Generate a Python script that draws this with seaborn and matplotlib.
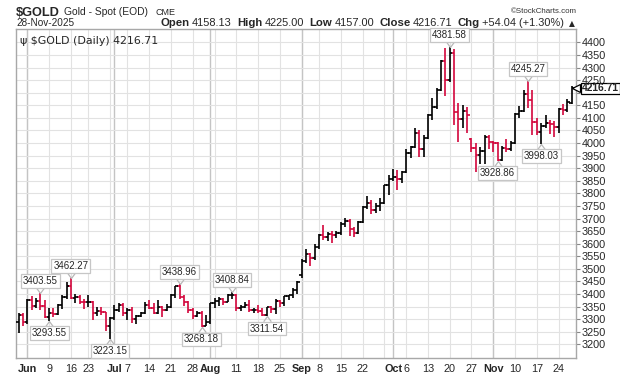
import numpy as np
import pandas as pd
import matplotlib
matplotlib.use("Agg")
import matplotlib.pyplot as plt
import seaborn as sns

# daily OHLC (May 29 - Nov 28, 2025; US holidays skipped)
holidays = ["2025-06-19", "2025-07-04", "2025-09-01", "2025-11-27"]
opens = [3290, 3318, 3290, 3376, 3353, 3373, 3352, 3310, 3326, 3322,
         3355, 3387, 3433, 3385, 3388, 3369, 3368, 3370, 3323, 3332,
         3328, 3274, 3303, 3338, 3357, 3326, 3336, 3301, 3313, 3324,
         3355, 3343, 3324, 3347, 3338, 3350, 3397, 3431, 3387, 3368,
         3337, 3314, 3326, 3275, 3289, 3363, 3373, 3381, 3369, 3397,
         3398, 3343, 3348, 3356, 3335, 3336, 3332, 3315, 3347, 3339,
         3372, 3365, 3393, 3397, 3416, 3476, 3533, 3560, 3545, 3587,
         3636, 3627, 3640, 3634, 3643, 3679, 3689, 3659, 3644, 3685,
         3746, 3763, 3735, 3749, 3760, 3833, 3858, 3866, 3856, 3886,
         3960, 3985, 4041, 3975, 4018, 4110, 4143, 4210, 4326, 4251,
         4356, 4125, 4095, 4126, 4015, 3982, 3952, 3970, 4025, 4003,
         4001, 3932, 3980, 3977, 4000, 4115, 4128, 4195, 4171, 4084,
         4045, 4067, 4078, 4076, 4065, 4137, 4131, 4158.13]
highs = [3325, 3325, 3380, 3392, 3385, 3403.55, 3375, 3345, 3345, 3360,
         3398, 3446, 3462.27, 3400, 3395, 3380, 3398, 3372, 3348, 3350,
         3329, 3310, 3358, 3365, 3366, 3345, 3348, 3317, 3330, 3369,
         3375, 3366, 3377, 3352, 3361, 3402, 3433, 3438.96, 3395, 3373,
         3345, 3334, 3334, 3315, 3363, 3385, 3390, 3385, 3400, 3408.84,
         3400, 3358, 3370, 3375, 3345, 3358, 3345, 3350, 3351, 3379,
         3376, 3393, 3398, 3423, 3453, 3540, 3578, 3565, 3600, 3640,
         3674, 3645, 3650, 3650, 3685, 3703, 3697, 3665, 3690, 3750,
         3791, 3775, 3762, 3780, 3835, 3872, 3895, 3894, 3890, 3977,
         3990, 4059, 4050, 4030, 4116, 4179, 4218, 4330, 4379, 4381.58,
         4374, 4161, 4150, 4145, 4020, 4000, 3985, 4030, 4030, 4010,
         4003, 3990, 4015, 4010, 4120, 4148, 4210, 4245.27, 4211, 4099,
         4080, 4110, 4090, 4089, 4140, 4155, 4175, 4225]
lows = [3245, 3272, 3280, 3335, 3345, 3338, 3306, 3293.55, 3310, 3316,
        3340, 3380, 3382, 3365, 3362, 3340, 3347, 3295, 3313, 3316,
        3255, 3223.15, 3298, 3330, 3311, 3296, 3287, 3282, 3310, 3322,
        3341, 3320, 3319, 3309, 3332, 3345, 3383, 3381, 3351, 3325,
        3301, 3309, 3268.18, 3272, 3280, 3346, 3354, 3358, 3367, 3380,
        3331, 3331, 3344, 3330, 3323, 3323, 3314, 3311.54, 3324, 3321,
        3350, 3352, 3375, 3385, 3402, 3463, 3525, 3510, 3535, 3580,
        3613, 3612, 3602, 3622, 3636, 3668, 3630, 3627, 3640, 3682,
        3736, 3718, 3722, 3730, 3758, 3793, 3850, 3814, 3840, 3882,
        3940, 3980, 3945, 3945, 4015, 4090, 4137, 4205, 4185, 4244,
        4072, 4004, 4060, 4039, 3966, 3886, 3915, 3915, 3975, 3965,
        3928.86, 3930, 3965, 3970, 3995, 4100, 4125, 4140, 4032, 4033,
        3998.03, 4060, 4036, 4022, 4040, 4110, 4125, 4157]
closes = [3318, 3289, 3375, 3353, 3373, 3352, 3310, 3326, 3322, 3355,
          3387, 3433, 3385, 3388, 3369, 3368, 3370, 3323, 3332, 3328,
          3274, 3303, 3338, 3357, 3326, 3336, 3301, 3313, 3324, 3355,
          3343, 3324, 3347, 3338, 3350, 3397, 3431, 3387, 3368, 3337,
          3314, 3326, 3275, 3289, 3363, 3373, 3381, 3369, 3397, 3398,
          3343, 3348, 3356, 3335, 3336, 3332, 3315, 3347, 3339, 3372,
          3365, 3393, 3397, 3416, 3448, 3533, 3560, 3545, 3587, 3636,
          3627, 3640, 3634, 3643, 3679, 3689, 3659, 3644, 3685, 3746,
          3763, 3735, 3749, 3760, 3833, 3858, 3866, 3856, 3886, 3960,
          3985, 4041, 3975, 4018, 4110, 4143, 4210, 4326, 4251, 4356,
          4125, 4095, 4126, 4112, 3982, 3952, 3970, 4025, 4003, 4001,
          3932, 3980, 3977, 4000, 4115, 4128, 4195, 4171, 4084, 4045,
          4067, 4078, 4076, 4065, 4137, 4131, 4162.67, 4216.71]

tick_dates = ["2025-06-02", "2025-06-09", "2025-06-16", "2025-06-23", "2025-07-01",
              "2025-07-07", "2025-07-14", "2025-07-21", "2025-07-28", "2025-08-01",
              "2025-08-11", "2025-08-18", "2025-08-25", "2025-09-02", "2025-09-08",
              "2025-09-15", "2025-09-22", "2025-10-01", "2025-10-06", "2025-10-13",
              "2025-10-20", "2025-10-27", "2025-11-03", "2025-11-10", "2025-11-17",
              "2025-11-24"]
tick_labels = ["Jun", "9", "16", "23", "Jul", "7", "14", "21", "28", "Aug",
               "11", "18", "25", "Sep", "8", "15", "22", "Oct", "6", "13",
               "20", "27", "Nov", "10", "17", "24"]

# labelled swing points
swing_dates = ["2025-06-05", "2025-06-09", "2025-06-16", "2025-06-30", "2025-07-23",
               "2025-07-30", "2025-08-08", "2025-08-20", "2025-10-20", "2025-11-04",
               "2025-11-13", "2025-11-18"]
swing_prices = [3403.55, 3293.55, 3462.27, 3223.15, 3438.96, 3268.18, 3408.84,
                3311.54, 4381.58, 3928.86, 4245.27, 3998.03]
swing_above = [True, False, True, False, True, False, True, False, True, False, True, False]

header_labels = ["Open", "High", "Low", "Close", "Chg"]
header_vals = ["4158.13", "4225.00", "4157.00", "4216.71", "+54.04 (+1.30%)"]

RED = "#d3063c"

dates = pd.bdate_range("2025-05-29", "2025-11-28", freq="C", holidays=holidays)
df = pd.DataFrame({"open": opens, "high": highs, "low": lows, "close": closes}, index=dates)
df["x"] = np.arange(len(df))
df["up"] = df["close"] >= df["close"].shift(1).fillna(0)
cols = np.where(df["up"], "black", RED)

sns.set_style("white")
plt.rcParams["font.family"] = ["Liberation Sans", "DejaVu Sans"]

W, H = 620, 376
fig = plt.figure(figsize=(6.2, 3.76), dpi=100)
ax = fig.add_axes([16 / W, 18 / H, 560 / W, 329 / H])

# grid
ax.set_yticks(np.arange(3200, 4401, 50))
ax.grid(axis="y", color="#e2e2e2", lw=0.8, zorder=0)
wk = df.index.isocalendar().week.values
week_start = df["x"][np.r_[False, wk[1:] != wk[:-1]]]
month_start = df["x"][np.r_[False, df.index.month[1:] != df.index.month[:-1]]]
for xv in week_start:
    ax.axvline(xv, color="#e2e2e2", lw=0.8, zorder=0)
for xv in month_start:
    ax.axvline(xv, color="#c4c4c4", lw=1.0, zorder=0)

# OHLC bars
ax.vlines(df["x"], df["low"], df["high"], colors=cols, lw=1.2, zorder=3)
ax.hlines(df["open"], df["x"] - 0.55, df["x"], colors=cols, lw=1.2, zorder=3)
ax.hlines(df["close"], df["x"], df["x"] + 0.55, colors=cols, lw=1.2, zorder=3)

ax.set_xlim(-0.6, 128.0)
ax.set_ylim(3146, 4453)

# swing labels
v_up = [(-1.1, 1.5), (0, 0), (1.1, 1.5)]
v_dn = [(-1.1, -1.5), (0, 0), (1.1, -1.5)]
for d, p, above in zip(swing_dates, swing_prices, swing_above):
    xv = df.loc[d, "x"]
    ax.plot(xv, p, marker=v_up if above else v_dn, ms=7.5, mfc="none",
            mec="#b8b8b8", mew=0.9, zorder=4, clip_on=False)
    ax.annotate(f"{p:.2f}", xy=(xv, p), xytext=(0, 5.2 if above else -5.2),
                textcoords="offset points", ha="center",
                va="bottom" if above else "top", fontsize=7, zorder=5,
                bbox=dict(boxstyle="square,pad=0.2", fc="white", ec="#c6c6c6", lw=0.9))

# axes styling
for s in ax.spines.values():
    s.set_color("#a8a8a8")
    s.set_linewidth(1.0)
ax.yaxis.tick_right()
ax.tick_params(axis="y", length=3, width=0.8, color="#888888", pad=1, labelsize=7.8)
ax.set_yticklabels(["" if v == 4200 else str(v) for v in range(3200, 4401, 50)])
tick_x = [df.loc[d, "x"] for d in tick_dates]
ax.set_xticks(tick_x)
ax.set_xticklabels(tick_labels, fontsize=7.8)
for lab in ax.get_xticklabels():
    if not lab.get_text().isdigit():
        lab.set_fontweight("bold")
ax.set_xticks(df["x"], minor=True)
ax.tick_params(axis="x", which="major", length=0, pad=4)
ax.tick_params(axis="x", which="minor", length=2, width=0.6, color="#999999")

# last price tag
last = df["close"].iloc[-1]
ax.plot(1.0, last, marker="<", ms=5.5, mfc="white", mec="black", mew=0.9,
        transform=ax.get_yaxis_transform(), clip_on=False, zorder=6)
ax.annotate(f"{last:.2f}", xy=(1, last), xycoords=("axes fraction", "data"),
            xytext=(4.3, 0), textcoords="offset points", ha="left", va="center",
            fontsize=7.4, fontweight="bold", zorder=7, annotation_clip=False,
            bbox=dict(boxstyle="square,pad=0.08", fc="white", ec="black", lw=0.9))

rend = fig.canvas.get_renderer()


def fit(x, y, txt, width, ha="left", **kw):
    # place text at pixel position and size it to the width seen in the chart
    t = fig.text(x / W, 1 - y / H, txt, fontsize=10, ha=ha, **kw)
    w = t.get_window_extent(rend).width
    t.set_fontsize(10 * width / w)
    return t


# in-chart legend text
fit(20, 40.5, "\u03c8 $GOLD (Daily) 4216.71", 138, va="center", family=["DejaVu Sans"])

# header
fit(16, 16, "$GOLD", 44, fontweight="bold")
fit(63.5, 15, "Gold - Spot (EOD)", 84)
fit(155, 15, "CME", 20)
fit(577, 13, "\u00a9StockCharts.com", 66, ha="right", color="#333333")
fit(16, 26, "28-Nov-2025", 58)

# OHLC line chained then right-aligned to the plot edge
pieces = []
for lab, val in zip(header_labels, header_vals):
    pieces += [(lab, True, 2.5), (val, False, 5)]
pieces.append(("\u25B2", False, 0))
texts, x = [], 0.0
for txt, bold, gap in pieces:
    t = fig.text(x / W, 1 - 26 / H, txt, fontsize=8.2 if bold else 7.9,
                 fontweight="bold" if bold else "normal",
                 family=["DejaVu Sans"] if txt == "\u25B2" else None)
    if txt == "\u25B2":
        t.set_fontsize(5.5)
    texts.append(t)
    x = t.get_window_extent(rend).x1 + gap
shift = 575 - x
for t in texts:
    px, py = t.get_position()
    t.set_position((px + shift / W, py))

fig.savefig("out.png", dpi=100)
